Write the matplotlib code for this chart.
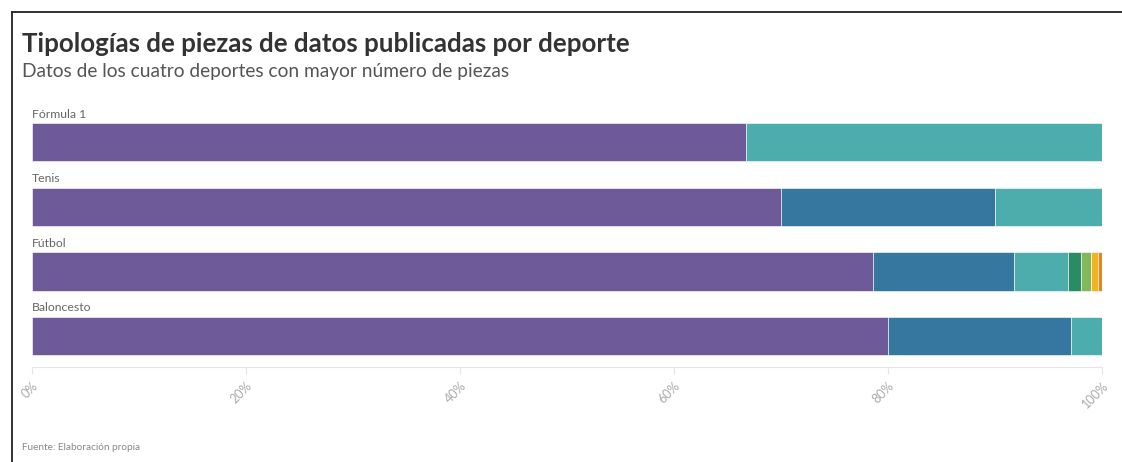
import matplotlib.pyplot as plt
from matplotlib.lines import Line2D

# data (percent of pieces per type)
sports = ["Fórmula 1", "Tenis", "Fútbol", "Baloncesto"]
type_colors = ["#6f5a99", "#35779f", "#4dadad", "#2a8c64", "#82b85a", "#f0b323", "#e8851d"]
shares = [
    [66.7, 0.0, 33.3, 0.0, 0.0, 0.0, 0.0],
    [70.0, 20.0, 10.0, 0.0, 0.0, 0.0, 0.0],
    [78.6, 13.2, 5.0, 1.2, 1.0, 0.6, 0.4],
    [80.0, 17.1, 2.9, 0.0, 0.0, 0.0, 0.0],
]
ticks = [0, 20, 40, 60, 80, 100]
tick_labels = ["0%", "20%", "40%", "60%", "80%", "100%"]

plt.rcParams["font.family"] = ["Lato", "DejaVu Sans"]

W, H = 1122, 462
fig = plt.figure(figsize=(W / 100, H / 100), dpi=100)

# frame lines (top and left only)
fig.add_artist(Line2D([12 / W, 1], [1 - 12 / H, 1 - 12 / H], color="#222222", lw=1.3))
fig.add_artist(Line2D([12 / W, 12 / W], [0, 1 - 12 / H], color="#222222", lw=1.3))

fig.text(22 / W, 1 - 44 / H, "Tipologías de piezas de datos publicadas por deporte",
         fontsize=18.6, fontweight="bold", color="#333333", va="center", ha="left")
fig.text(22 / W, 1 - 71 / H, "Datos de los cuatro deportes con mayor número de piezas",
         fontsize=13.8, color="#555555", va="center", ha="left")
fig.text(22 / W, 1 - 447 / H, "Fuente: Elaboración propia",
         fontsize=7.2, color="#888888", va="center", ha="left")

left, right, top, bottom = 32, 1102, 105, 367
ax = fig.add_axes([left / W, 1 - bottom / H, (right - left) / W, (bottom - top) / H])

for i, row in enumerate(shares):
    start = 0
    for val, col in zip(row, type_colors):
        if val > 0:
            ax.barh(i, val, left=start, height=0.59, color=col,
                    edgecolor="#ffffff", linewidth=0.4)
        start += val
    ax.text(0, i - 0.44, sports[i], fontsize=8.8, color="#666666", va="center", ha="left")

ax.set_xlim(0, 100)
ax.set_ylim(3.48, -0.58)
ax.set_yticks([])
for s in ["top", "right", "left"]:
    ax.spines[s].set_visible(False)
ax.spines["bottom"].set_color("#e6e6e6")
ax.set_xticks(ticks)
ax.set_xticklabels(tick_labels, rotation=45, ha="right", va="top",
                   rotation_mode="anchor", fontsize=9, color="#aaaaaa")
ax.tick_params(axis="x", length=5, color="#e6e6e6", pad=4)

fig.savefig("out.png", dpi=100)
